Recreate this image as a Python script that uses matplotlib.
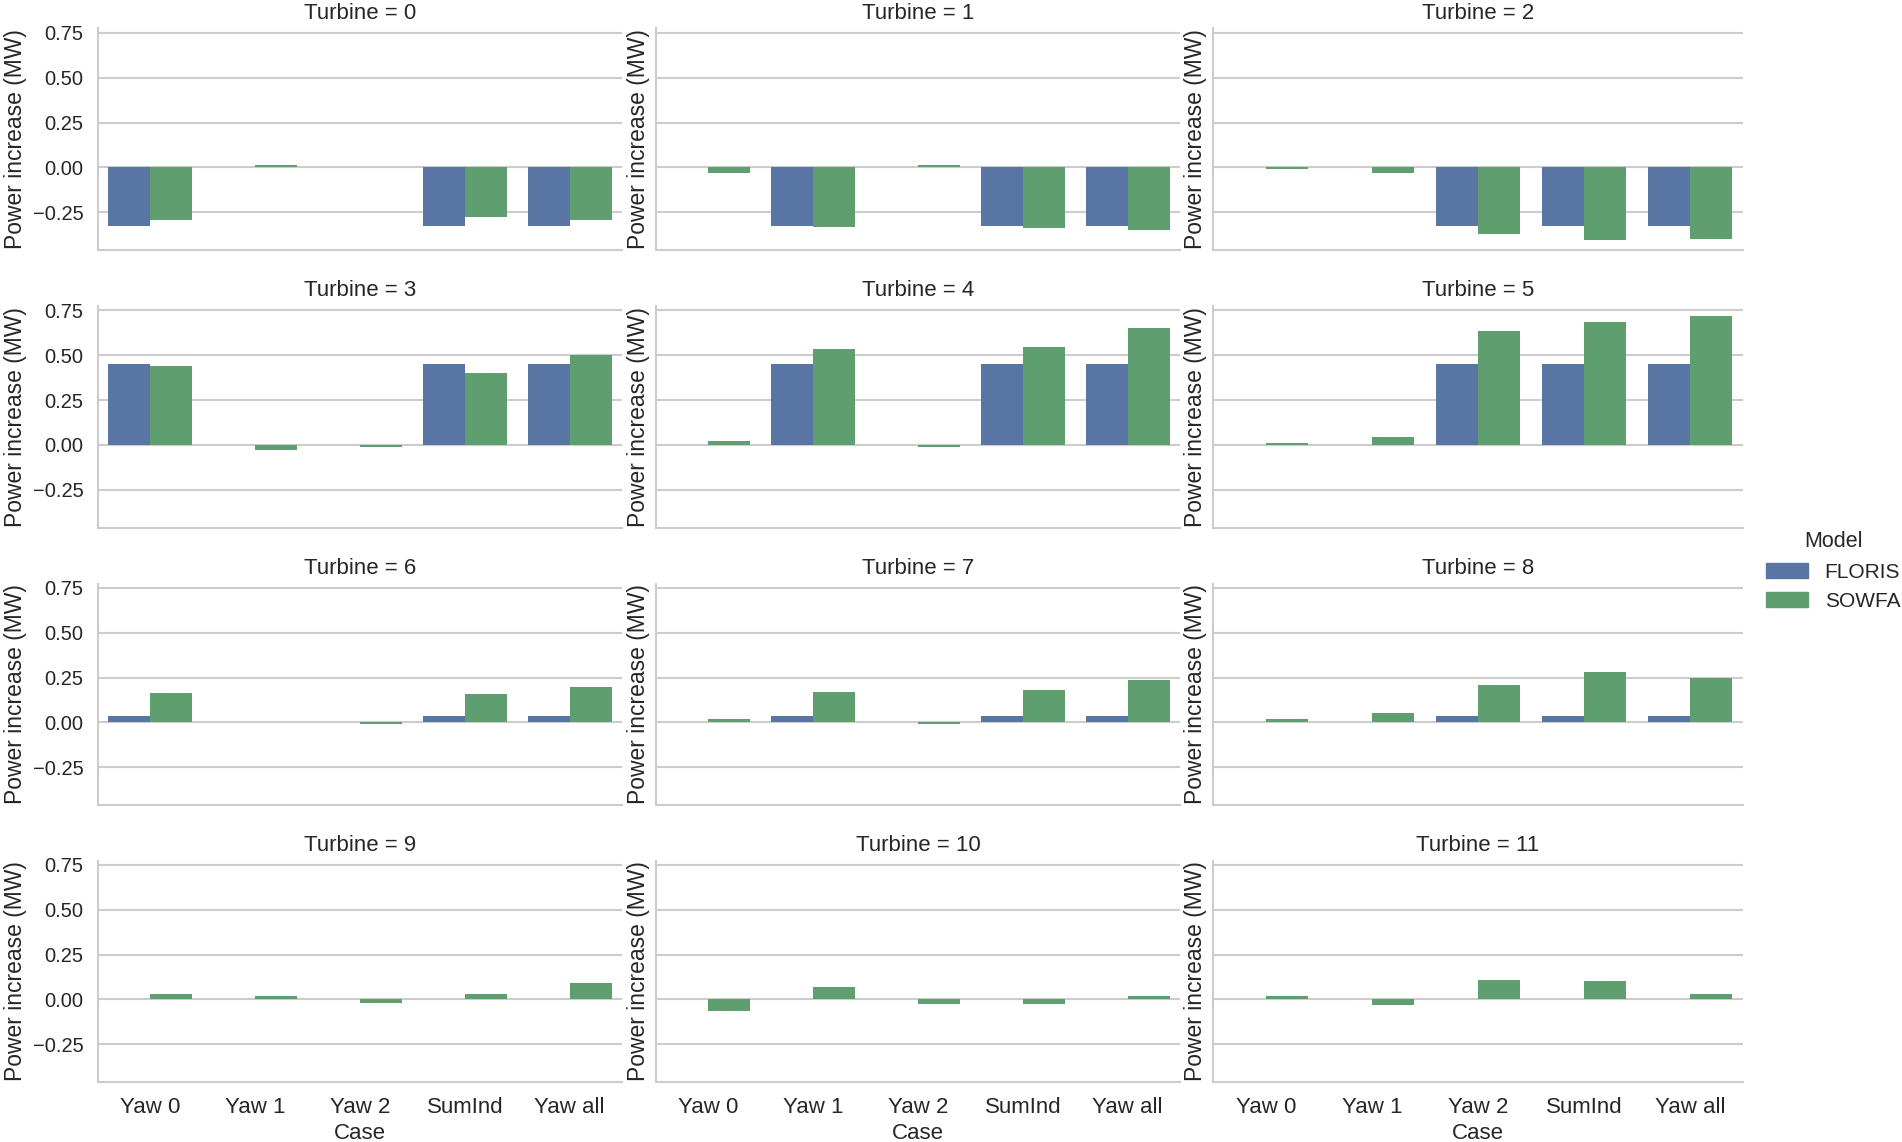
import numpy as np
import matplotlib
matplotlib.use("Agg")
import matplotlib.pyplot as plt
from matplotlib.patches import Patch

cases = ["Yaw 0", "Yaw 1", "Yaw 2", "SumInd", "Yaw all"]
models = ["FLORIS", "SOWFA"]
turbines = list(range(12))

# power increase (MW) per turbine, one value per case
floris_mw = [
    [-0.328, 0.0, 0.0, -0.328, -0.328],
    [0.0, -0.328, 0.0, -0.328, -0.328],
    [0.0, 0.0, -0.328, -0.328, -0.328],
    [0.45, 0.0, 0.0, 0.45, 0.45],
    [0.0, 0.45, 0.0, 0.45, 0.45],
    [0.0, 0.0, 0.45, 0.45, 0.45],
    [0.035, 0.0, 0.0, 0.035, 0.035],
    [0.0, 0.035, 0.0, 0.035, 0.035],
    [0.0, 0.0, 0.035, 0.035, 0.035],
    [0.0, 0.0, 0.0, 0.0, 0.0],
    [0.0, 0.0, 0.0, 0.0, 0.0],
    [0.0, 0.0, 0.0, 0.0, 0.0],
]
sowfa_mw = [
    [-0.294, 0.015, 0.0, -0.278, -0.294],
    [-0.028, -0.333, 0.015, -0.339, -0.35],
    [-0.011, -0.028, -0.372, -0.404, -0.40],
    [0.439, -0.026, -0.011, 0.40, 0.50],
    [0.022, 0.533, -0.011, 0.544, 0.65],
    [0.011, 0.044, 0.633, 0.683, 0.717],
    [0.162, 0.0, -0.011, 0.156, 0.196],
    [0.017, 0.168, -0.011, 0.179, 0.235],
    [0.017, 0.05, 0.207, 0.279, 0.246],
    [0.033, 0.017, -0.017, 0.033, 0.094],
    [-0.066, 0.072, -0.026, -0.026, 0.017],
    [0.022, -0.033, 0.11, 0.10, 0.033],
]

colors = {"FLORIS": "#5975a4", "SOWFA": "#5f9e6e"}
grey = "#cccccc"
txt = "#262626"

plt.rcParams["font.family"] = ["Liberation Sans", "DejaVu Sans"]
plt.rcParams["text.color"] = txt
plt.rcParams["axes.labelcolor"] = txt
plt.rcParams["xtick.color"] = txt
plt.rcParams["ytick.color"] = txt

W, H = 1902, 1142
fig = plt.figure(figsize=(W / 100, H / 100), dpi=100)

col_left = [98, 656, 1213]
col_w = [524, 524, 530]
row_top = [28.5, 306, 583.5, 860.5]
ah = 221.5

x = np.arange(len(cases))
first = None
for t in turbines:
    r, c = divmod(t, 3)
    rect = [col_left[c] / W, 1 - (row_top[r] + ah) / H, col_w[c] / W, ah / H]
    ax = fig.add_axes(rect, sharex=first, sharey=first)
    if first is None:
        first = ax
    ax.bar(x - 0.2, floris_mw[t], width=0.4, color=colors["FLORIS"], zorder=2)
    ax.bar(x + 0.2, sowfa_mw[t], width=0.4, color=colors["SOWFA"], zorder=2)

    ax.set_axisbelow(True)
    ax.grid(axis="y", color=grey, linewidth=1.5)
    ax.grid(axis="x", visible=False)
    for s in ["top", "right"]:
        ax.spines[s].set_visible(False)
    for s in ["left", "bottom"]:
        ax.spines[s].set_color(grey)
        ax.spines[s].set_linewidth(1.5)
    ax.tick_params(length=0, pad=10.5)
    ax.tick_params(axis="y", labelsize=14.5)
    ax.tick_params(axis="x", labelsize=16)
    ax.set_title(f"Turbine = {t}", fontsize=16, pad=7)
    ax.set_ylabel("Power increase (MW)", fontsize=16.5)
    if c != 0:
        ax.tick_params(axis="y", labelleft=False)
    if r != 3:
        ax.tick_params(axis="x", labelbottom=False)
    else:
        ax.set_xlabel("Case", fontsize=16)

first.set_xticks(x)
first.set_xticklabels(cases)
first.set_xlim(-0.5, len(cases) - 0.5)
first.set_yticks([-0.25, 0.0, 0.25, 0.5, 0.75])
first.set_ylim(-0.459, 0.773)

handles = [Patch(color=colors[m], label=m) for m in models]
fig.legend(handles=handles, title="Model", loc="center left",
           bbox_to_anchor=(1758 / W, 0.5), borderaxespad=0, frameon=False,
           fontsize=15, title_fontsize=15.5)

fig.savefig("out.png", dpi=100)
